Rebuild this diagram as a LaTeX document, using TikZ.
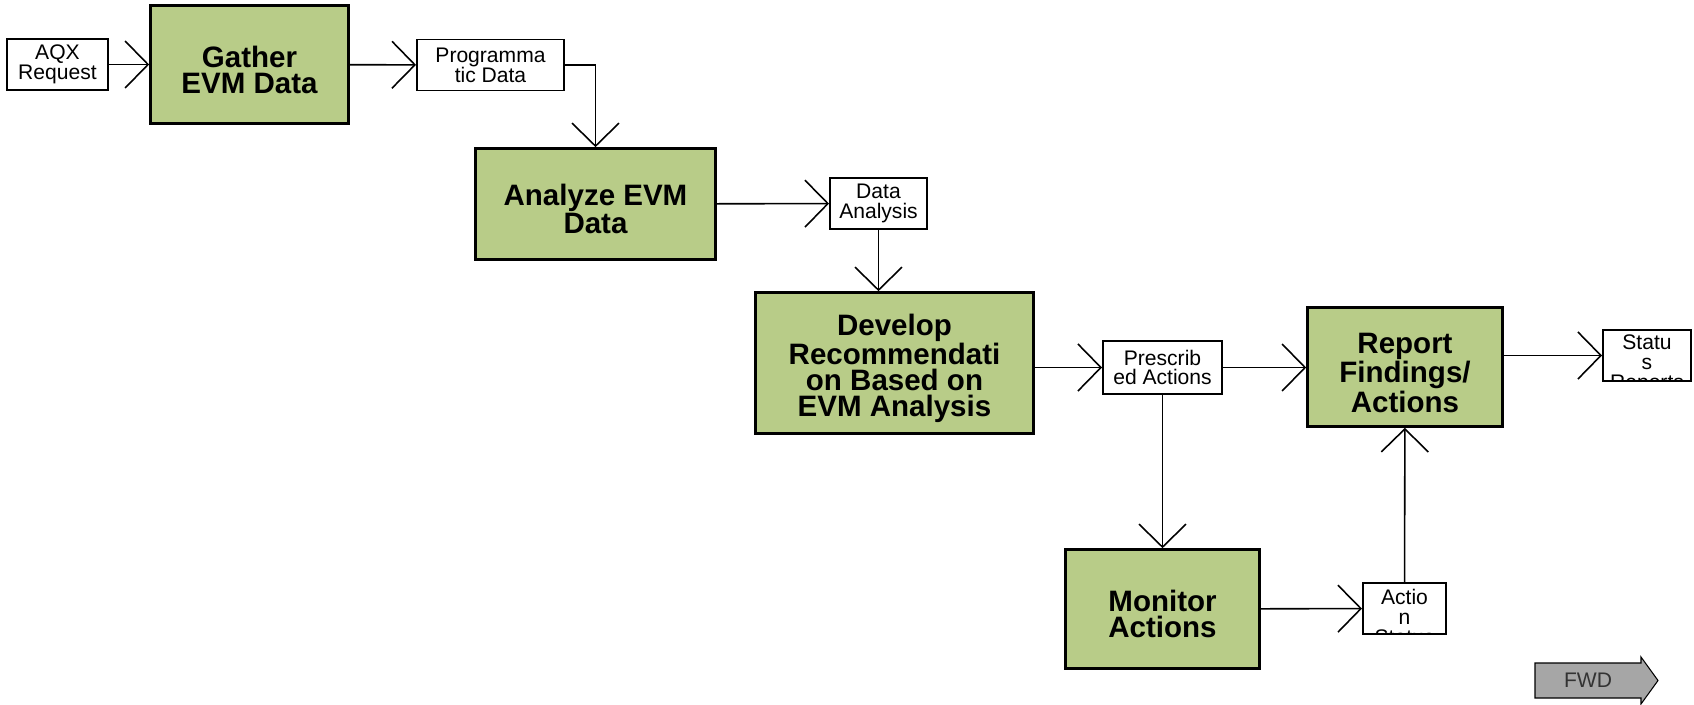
\documentclass[tikz,border=0pt]{standalone}
\usepackage{fontspec}
\setmainfont{Liberation Sans}
\usetikzlibrary{arrows.meta,calc}
\definecolor{evmgreen}{RGB}{184,204,136}
\definecolor{fwdgray}{RGB}{166,166,166}
\newcommand{\capfix}{\rule{0pt}{18pt}}
\tikzset{
  invisible/.style={inner sep=0pt},
  process/.style ={rectangle, draw=black, line width=1.5pt, fill=evmgreen, align=center,
    inner sep=2pt, font=\fontsize{16.8}{14.6}\selectfont\bfseries},
  output/.style  ={rectangle, draw=black, line width=1.1pt, fill=white, align=center,
    inner sep=1pt, minimum height=1.02cm, font=\fontsize{12}{11.3}\selectfont},
  cut/.style     ={anchor=north, inner sep=0pt, align=center, font=\fontsize{12}{11.3}\selectfont}
}

\begin{document}
\begin{tikzpicture}[x=0.02cm, y=-0.02cm]

\tikzset{
toarr/.style={-{Straight Barb[length=0.46cm, width=0.94cm]}, line width=0.9pt}
}

\useasboundingbox (0,0) rectangle (1694,704);

%GATHER
\node[output, minimum width=2.02cm](aqx) at (57.5,64.5) {AQX\\Request};

\node[process, minimum width=3.96cm, minimum height=2.36cm](gather) at (249.5,64.5) {\capfix Gather\\EVM Data};

\node[output, minimum width=2.94cm](prog) at (490.5,65) {Programma\\tic Data};

\draw[toarr] (aqx) -- (gather);
\draw[toarr] (gather) -- (prog);

%ANALYZE
\node[process, minimum width=4.8cm, minimum height=2.22cm](analyze) at (595.5,204) {\capfix Analyze EVM\\Data};

\node[output, minimum width=1.94cm](dataan) at (878.5,203.5) {Data\\Analysis};

\draw[toarr] (prog) -| (analyze);
\draw[toarr] (analyze) -- (dataan);

%DEVELOP
\node[process, minimum width=5.56cm, minimum height=2.82cm](develop) at (894.5,363) {\capfix Develop\\Recommendati\\on Based on\\EVM Analysis};

\node[output, minimum width=2.38cm, minimum height=1.06cm](presc) at (1162.5,367.5) {Prescrib\\ed Actions};

\draw[toarr] (dataan) -- (dataan |- develop.north);
\draw[toarr] (develop.east |- presc) -- (presc);

%REPORT
\node[process, minimum width=3.9cm, minimum height=2.38cm](report) at (1405,367) {\capfix Report\\Findings/\\Actions};

\node[output, minimum width=1.76cm,
path picture={\node[cut](statustxt) at ([yshift=-2.2pt]path picture bounding box.north) {Statu\\s\\Reports};}
](status) at (1647,355.5) {};

\draw[toarr] (presc) -- (presc -| report.west);
\draw[toarr] (report.east |- status) -- (status);

%MONITOR
\node[process, minimum width=3.88cm, minimum height=2.38cm](monitor) at (1162.5,609) {\capfix Monitor\\Actions};

\node[output, minimum width=1.66cm,
path picture={\node[cut](actiontxt) at ([yshift=-3pt]path picture bounding box.north) {Actio\\n\\Status};}
](action) at (1404.5,608.5) {};

\draw[toarr] (presc) -- (monitor);
\draw[toarr] (monitor) -- (action);
\draw[toarr] (action) -- (report);

%FWD
\draw[draw=black, line width=0.6pt, fill=fwdgray]
  (1535,663) -- (1641,663) -- (1641,657) -- (1658,680.5) -- (1641,704) -- (1641,698) -- (1535,698) -- cycle;
\node[invisible, font=\fontsize{12}{12}\selectfont, text=black!80](fwd) at (1588,680.5) {FWD};

\end{tikzpicture}
\end{document}
